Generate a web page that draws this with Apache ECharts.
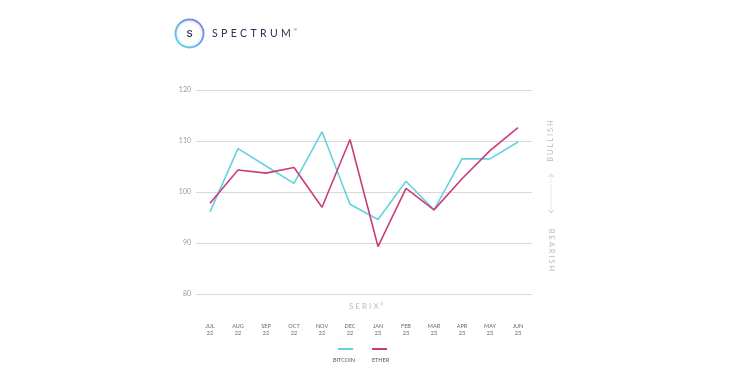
<!DOCTYPE html>
<html><head><meta charset="utf-8">
<script src="https://cdn.jsdelivr.net/npm/echarts@6/dist/echarts.min.js"></script>
<style>html,body{margin:0;padding:0;background:#fff}#c{width:747px;height:384px}</style>
</head><body><div id="c"></div>
<script>
const categories = ['JUL\n22','AUG\n22','SEP\n22','OCT\n22','NOV\n22','DEC\n22','JAN\n23','FEB\n23','MAR\n23','APR\n23','MAY\n23','JUN\n23'];
const bitcoin = [96.1, 108.5, 105.1, 101.7, 111.8, 97.6, 94.6, 102.1, 96.5, 106.5, 106.5, 109.8];
const ether = [97.8, 104.3, 103.7, 104.8, 97.0, 110.3, 89.3, 100.7, 96.5, 102.6, 108.1, 112.6];
const seriesNames = ['BITCOIN', 'ETHER'];
const colors = ['#63d3df', '#c93d7d'];

const chart = echarts.init(document.getElementById('c'), null, {renderer: 'canvas'});
const font = 'Lato, "Open Sans", sans-serif';
chart.setOption({
  animation: false,
  backgroundColor: '#ffffff',
  color: colors,
  grid: {left: 196, top: 90, width: 336, height: 204, containLabel: false},
  xAxis: {
    type: 'category', data: categories, boundaryGap: true,
    axisLine: {show: false}, axisTick: {show: false},
    axisLabel: {color: '#666', fontSize: 5.5, lineHeight: 7, margin: 29, fontFamily: font, interval: 0}
  },
  yAxis: {
    type: 'value', min: 80, max: 120, interval: 10,
    axisLine: {show: false}, axisTick: {show: false},
    axisLabel: {color: '#999', fontSize: 7, margin: 5, fontFamily: font},
    splitLine: {lineStyle: {color: '#d8d8d8', width: 1}}
  },
  legend: [
    {data: seriesNames, left: 333, top: 343, orient: 'horizontal', itemWidth: 15, itemHeight: 2, itemGap: 19,
     icon: 'rect', formatter: () => '', selectedMode: false, textStyle: {fontSize: 1}},
    {data: seriesNames, left: 323, top: 352, orient: 'horizontal', itemWidth: 0, itemHeight: 0, itemGap: 12,
     icon: 'rect', selectedMode: false, inactiveColor: 'transparent',
     itemStyle: {opacity: 0}, lineStyle: {opacity: 0},
     textStyle: {color: '#555', fontSize: 5.5, fontFamily: font}}
  ],
  series: [
    {name: seriesNames[0], type: 'line', data: bitcoin, symbol: 'none', lineStyle: {width: 1.6, color: colors[0]}, z: 3},
    {name: seriesNames[1], type: 'line', data: ether, symbol: 'none', lineStyle: {width: 1.6, color: colors[1]}, z: 4}
  ],
  graphic: [
    {type: 'circle', shape: {cx: 189.5, cy: 33.5, r: 14}, style: {fill: 'none', lineWidth: 2,
      stroke: new echarts.graphic.LinearGradient(0, 1, 1, 0, [{offset: 0, color: '#5ee0e6'}, {offset: 0.5, color: '#6aa9e8'}, {offset: 1, color: '#8a6fd8'}])}},
    {type: 'circle', shape: {cx: 189.5, cy: 33.5, r: 11.8}, style: {fill: 'none', lineWidth: 1.2, stroke: '#e4f3f8'}},
    {type: 'text', x: 189.5, y: 34, style: {text: 'S', fontSize: 9.5, fill: '#2b3252', align: 'center', verticalAlign: 'middle', fontFamily: 'Inter, sans-serif', fontWeight: 600}},
    {type: 'text', left: 212, top: 28, style: {text: 'S \u200AP \u200AE \u200AC \u200AT \u200AR \u200AU \u200AM', fontSize: 10.5, fill: '#2b3252', fontFamily: 'Lato, sans-serif'}},
    {type: 'text', left: 294, top: 28, style: {text: '®', fontSize: 4, fill: '#2b3252'}},
    {type: 'text', left: 349, top: 302, style: {text: 'S E R I X', fontSize: 8, fill: '#bbb', fontFamily: font}},
    {type: 'text', left: 380, top: 302, style: {text: '®', fontSize: 4.5, fill: '#bbb'}},
    {type: 'text', x: 551, y: 141, rotation: Math.PI / 2, style: {text: 'B U L L I S H', fontSize: 7.5, fill: '#bbb', align: 'center', verticalAlign: 'middle', fontFamily: font}},
    {type: 'text', x: 551, y: 250, rotation: -Math.PI / 2, style: {text: 'B E A R I S H', fontSize: 7.5, fill: '#bbb', align: 'center', verticalAlign: 'middle', fontFamily: font}},
    {type: 'line', shape: {x1: 551, y1: 174, x2: 551, y2: 213}, style: {stroke: '#d4d4d4', lineWidth: 1, lineDash: [1, 1]}},
    {type: 'polyline', shape: {points: [[548.5, 177], [551, 174], [553.5, 177]]}, style: {stroke: '#ccc', lineWidth: 1, fill: 'none'}},
    {type: 'polyline', shape: {points: [[548.5, 210], [551, 213], [553.5, 210]]}, style: {stroke: '#ccc', lineWidth: 1, fill: 'none'}}
  ]
});
</script></body></html>
